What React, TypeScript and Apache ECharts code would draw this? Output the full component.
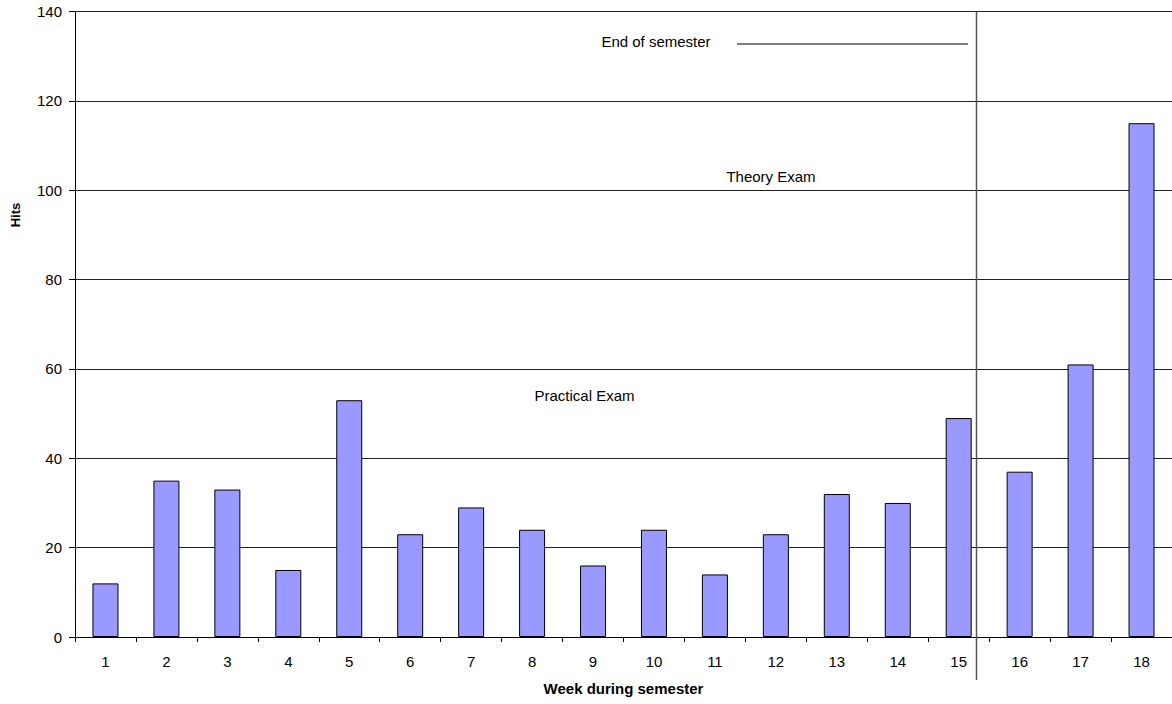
import React, { useEffect, useRef } from "react";
import * as echarts from "echarts";

// Weekly hit counts across the semester
const weeks = ["1", "2", "3", "4", "5", "6", "7", "8", "9", "10", "11", "12", "13", "14", "15", "16", "17", "18"];
const hits = [12, 35, 33, 15, 53, 23, 29, 24, 16, 24, 14, 23, 32, 30, 49, 37, 61, 115];
const yMin = 0;
const yMax = 140;
const yStep = 20;

const FONT = "'Liberation Sans', Arial, Helvetica, sans-serif";

export default function App() {
  const ref = useRef<HTMLDivElement>(null);

  useEffect(() => {
    if (!ref.current) return;
    const chart = echarts.init(ref.current, undefined, { renderer: "svg" });
    chart.setOption({
      animation: false,
      backgroundColor: "#ffffff",
      textStyle: { fontFamily: FONT },
      grid: { left: 75, top: 11.5, width: 1099.4, bottom: 67, containLabel: false },
      xAxis: {
        type: "category",
        data: weeks,
        name: "Week during semester",
        nameLocation: "middle",
        nameGap: 44,
        nameTextStyle: { fontFamily: FONT, fontSize: 15, fontWeight: "bold", color: "#000" },
        axisLine: { show: true, lineStyle: { color: "#000", width: 1 } },
        axisTick: { show: true, length: 5, lineStyle: { color: "#000", width: 1 } },
        axisLabel: { margin: 17, fontFamily: FONT, fontSize: 15, color: "#000" },
        splitLine: { show: false },
      },
      yAxis: {
        type: "value",
        min: yMin,
        max: yMax,
        interval: yStep,
        axisLine: { show: true, lineStyle: { color: "#000", width: 1 } },
        axisTick: { show: true, length: 6, lineStyle: { color: "#000", width: 1 } },
        axisLabel: { margin: 13, fontFamily: FONT, fontSize: 15, color: "#000" },
        splitLine: { show: true, lineStyle: { color: "#222", width: 1 } },
      },
      series: [
        {
          type: "bar",
          data: hits,
          barWidth: 26,
          itemStyle: { color: "#9999FF", borderColor: "#000", borderWidth: 1 },
        },
      ],
      graphic: [
        {
          type: "line",
          shape: { x1: 976.5, y1: 11.5, x2: 976.5, y2: 680 },
          style: { stroke: "#555", lineWidth: 1.5 },
          z: 100,
        },
        {
          type: "line",
          shape: { x1: 737, y1: 44, x2: 968, y2: 44 },
          style: { stroke: "#000", lineWidth: 1 },
          z: 100,
        },
        {
          type: "text",
          x: 656,
          y: 41,
          style: { text: "End of semester", font: `15px ${FONT}`, fill: "#000", textAlign: "center", textVerticalAlign: "middle" },
          z: 100,
        },
        {
          type: "text",
          x: 771,
          y: 176,
          style: { text: "Theory Exam", font: `15px ${FONT}`, fill: "#000", textAlign: "center", textVerticalAlign: "middle" },
          z: 100,
        },
        {
          type: "text",
          x: 584.5,
          y: 395,
          style: { text: "Practical Exam", font: `15px ${FONT}`, fill: "#000", textAlign: "center", textVerticalAlign: "middle" },
          z: 100,
        },
        {
          type: "text",
          x: 15,
          y: 215,
          rotation: Math.PI / 2,
          style: { text: "Hits", font: `bold 13px ${FONT}`, fill: "#000", textAlign: "center", textVerticalAlign: "middle" },
          z: 100,
        },
      ],
    });
    return () => chart.dispose();
  }, []);

  return (
    <div
      ref={ref}
      style={{ position: "fixed", left: 0, top: 0, width: 1172, height: 704, background: "#fff" }}
    />
  );
}
